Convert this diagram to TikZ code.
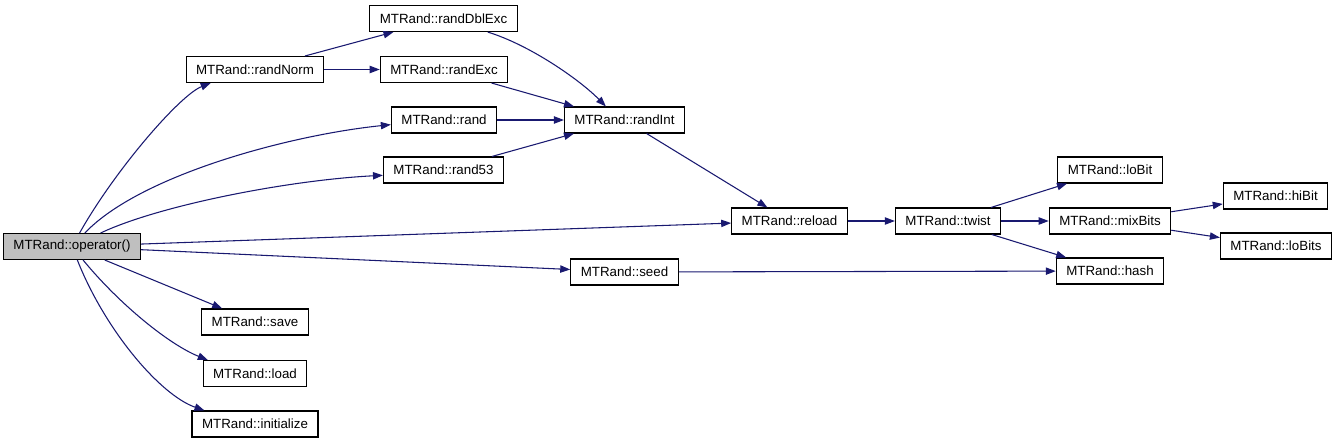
\documentclass[tikz,border=0pt]{standalone}
\usepackage{fontspec}
\setmainfont{Liberation Sans}
\usepackage{tikz}
\usetikzlibrary{arrows.meta}
\definecolor{callblue}{HTML}{191970}
\definecolor{rootgray}{HTML}{BFBFBF}

\begin{document}
\begin{tikzpicture}[x=0.75pt, y=0.75pt,
    fn/.style={draw=black, line width=0.8pt, fill=white, minimum height=19.5pt,
        inner xsep=7.5pt, inner ysep=0pt, font=\fontsize{10}{12}\selectfont},
    call/.style={draw=callblue, line width=0.8pt,
        -{Triangle[length=7.5pt, width=5.5pt]}}]
    \useasboundingbox (0,0) rectangle (1337,-443);

    \node[fn, fill=rootgray] (op) at (72,-246.5) {MTRand::operator()};
    \node[fn] (randNorm) at (255,-69.5) {MTRand::randNorm};
    \node[fn] (randDblExc) at (443.5,-18.5) {MTRand::randDblExc};
    \node[fn] (randExc) at (444,-69.5) {MTRand::randExc};
    \node[fn] (rand) at (444,-120) {MTRand::rand};
    \node[fn] (rand53) at (443.5,-170) {MTRand::rand53};
    \node[fn] (randInt) at (624.5,-120) {MTRand::randInt};
    \node[fn] (reload) at (789.5,-221) {MTRand::reload};
    \node[fn] (twist) at (948,-221) {MTRand::twist};
    \node[fn] (loBit) at (1110,-170) {MTRand::loBit};
    \node[fn] (mixBits) at (1110,-221) {MTRand::mixBits};
    \node[fn] (hash) at (1110,-271) {MTRand::hash};
    \node[fn] (hiBit) at (1275.5,-196) {MTRand::hiBit};
    \node[fn] (loBits) at (1276,-246) {MTRand::loBits};
    \node[fn] (seed) at (624.5,-272) {MTRand::seed};
    \node[fn] (save) at (255,-322) {MTRand::save};
    \node[fn] (load) at (255,-373.5) {MTRand::load};
    \node[fn] (initialize) at (255,-424) {MTRand::initialize};

    % calls from operator()
    \draw[call] (op) .. controls (115,-170) and (180,-95) .. (randNorm.197);
    \draw[call] (op) .. controls (140,-175) and (290,-135) .. (rand.185);
    \draw[call] (op) .. controls (160,-205) and (290,-180) .. (rand53.185);
    \draw[call] (op) -- (reload);
    \draw[call] (op) -- (seed);
    \draw[call] (op) -- (save);
    \draw[call] (op) .. controls (120,-305) and (170,-345) .. (load.164);
    \draw[call] (op) .. controls (105,-330) and (160,-395) .. (initialize.165);

    \draw[call] (randNorm) -- (randDblExc);
    \draw[call] (randNorm) -- (randExc);
    \draw[call] (randDblExc) .. controls (530,-45) and (580,-80) .. (randInt.144);
    \draw[call] (randExc) -- (randInt.165);
    \draw[call] (rand) -- (randInt);
    \draw[call] (rand53) -- (randInt.195);
    \draw[call] (randInt) -- (reload);

    \draw[call] (reload) -- (twist);
    \draw[call] (twist) -- (loBit);
    \draw[call] (twist) -- (mixBits);
    \draw[call] (twist) -- (hash);
    \draw[call] (mixBits) -- (hiBit);
    \draw[call] (mixBits) -- (loBits);
    \draw[call] (seed) -- (hash);
\end{tikzpicture}
\end{document}
